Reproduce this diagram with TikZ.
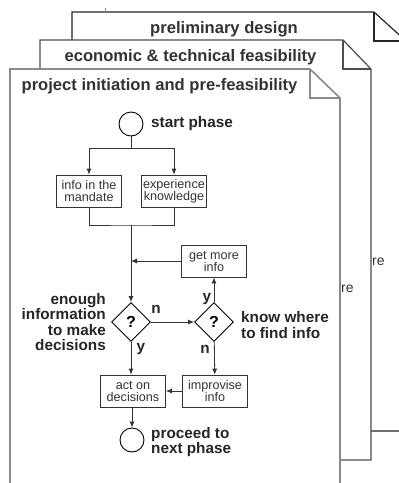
\documentclass[tikz,border=0pt]{standalone}
\usepackage{fontspec}
\setmainfont{Liberation Sans}
\usepackage{tikz}
\usetikzlibrary{arrows.meta,positioning,calc,shapes.geometric}
\definecolor{pagegray}{HTML}{8A8A8A}
\definecolor{inkgray}{HTML}{333333}
\tikzstyle{page}=[fill=white,line width=1.2pt]
\tikzstyle{header}=[font=\fontsize{16.6}{18}\selectfont\bfseries,text=inkgray,inner sep=0pt]
\tikzstyle{box}=[draw=inkgray,line width=0.8pt,minimum width=65pt,minimum height=32pt,inner sep=1pt,align=center,text=inkgray,font=\fontsize{12.6}{12}\selectfont]
\tikzstyle{decision}=[draw,diamond,line width=0.9pt,minimum size=39pt,inner sep=0pt,font=\fontsize{16}{16}\selectfont\bfseries]
\tikzstyle{terminal}=[draw,circle,line width=0.9pt,minimum size=24pt,inner sep=0pt]
\tikzstyle{label}=[font=\fontsize{15.3}{15.5}\selectfont\bfseries,text=black!85,inner sep=0pt]
\tikzstyle{flow}=[line width=0.8pt,draw=inkgray,-{Latex[length=6pt,width=5pt]}]

\begin{document}
\begin{tikzpicture}[x=1pt,y=-1pt]
  \useasboundingbox (0,0) rectangle (399,483);
  \clip (0,0) rectangle (399,483);

  % back page
  \draw[page,draw=black!85] (72,431) -- (72,12) -- (374,12) -- (406,41) -- (406,431) -- cycle;
  \draw[line width=1.2pt,black!85] (374,12) -- (374,41) -- (406,41);
  \node[header] (prelim) at (224,29) {preliminary design};
  \draw[line width=1pt,pagegray] (105,8) -- (105,12);

  % middle page
  \draw[page,draw=black!70] (40,460) -- (40,40) -- (343,40) -- (371,69) -- (371,460) -- cycle;
  \draw[line width=1.2pt,black!70] (343,40) -- (343,69) -- (371,69);
  \node[header] (econ) at (190.5,57) {economic \& technical feasibility};
  \node[font=\fontsize{14}{14}\selectfont,text=inkgray,anchor=west,inner sep=0pt] (frag1) at (372,262) {re};

  % front page
  \draw[page,draw=pagegray,line width=1.6pt] (10,495) -- (10,69) -- (310,69) -- (340,98) -- (340,495) -- cycle;
  \draw[line width=1.4pt,pagegray] (310,69) -- (310,98) -- (340,98);
  \node[header] (init) at (159.5,86) {project initiation and pre-feasibility};
  \node[font=\fontsize{14}{14}\selectfont,text=inkgray,anchor=west,inner sep=0pt] (frag2) at (341,289) {re};

  % flow chart
  \node[terminal] (start) at (131,124) {};
  \node[label,anchor=west] (startlbl) at (151,124) {start phase};
  \coordinate (split) at (131,148);
  \node[box] (mandate) at (89,191) {info in the\\mandate};
  \node[box] (experience) at (174,191) {experience\\knowledge};
  \coordinate (merge) at (131,225);
  \node[box] (getinfo) at (214,261) {get more\\info};
  \node[decision] (enough) at (131,322) {?};
  \node[decision] (knowwhere) at (214,322) {?};
  \node[label,anchor=east,align=right] (enoughlbl) at (106,322) {enough\\information\\to make\\decisions};
  \node[label,anchor=west,align=left] (knowlbl) at (241,325) {know where\\to find info};
  \node[box] (act) at (133,391) {act on\\decisions};
  \node[box] (improvise) at (215,391) {improvise\\info};
  \node[terminal] (proceed) at (132,440) {};
  \node[label,anchor=west,align=left] (proceedlbl) at (151,442) {proceed to\\next phase};

  \draw[line width=0.8pt,inkgray] (start) -- (split);
  \draw[flow] (split) -| (mandate);
  \draw[flow] (split) -| (experience);
  \draw[line width=0.8pt,inkgray] (mandate) |- (merge) -| (experience);
  \draw[flow] (merge) -- (enough);
  \draw[flow] (getinfo) -- (getinfo -| merge);
  \draw[flow] (enough) -- (knowwhere);
  \draw[flow] (knowwhere) -- (getinfo);
  \draw[flow] (knowwhere) -- (improvise);
  \draw[flow] (enough) -- (enough |- act.north);
  \draw[flow] (improvise) -- (act);
  \draw[flow] (act.south -| proceed) -- (proceed);

  % answers
  \node[label] (n1) at (156,309) {n};
  \node[label] (y1) at (141,349) {y};
  \node[label] (y2) at (207,299) {y};
  \node[label] (n2) at (205,349) {n};
\end{tikzpicture}
\end{document}
